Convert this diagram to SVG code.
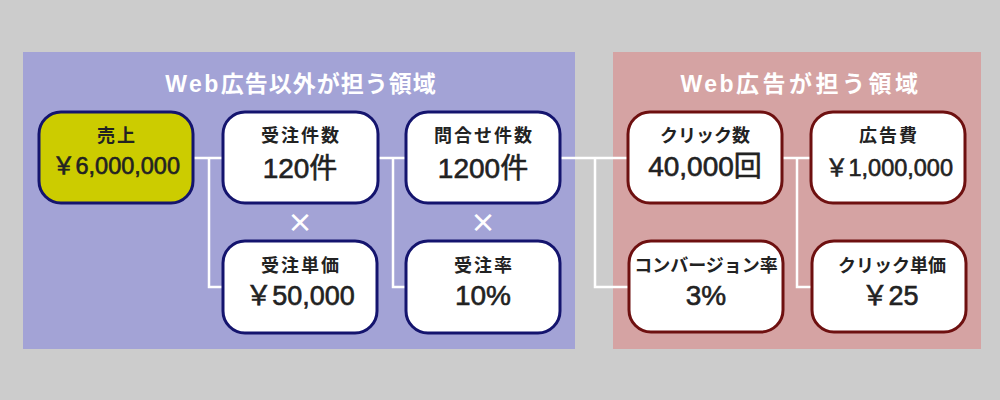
<svg xmlns="http://www.w3.org/2000/svg" width="1000" height="400" viewBox="0 0 1000 400">
<style>
.title{font-family:"Liberation Sans","Noto Sans CJK JP",sans-serif;font-weight:bold;font-size:23px;fill:#ffffff;text-anchor:middle}
.lbl{font-family:"Noto Sans CJK JP","Liberation Sans",sans-serif;font-weight:bold;font-size:18px;fill:#222222;text-anchor:middle}
.kj{letter-spacing:2px}
.val{font-family:"Liberation Sans","Noto Sans CJK JP",sans-serif;font-size:28px;fill:#222222;stroke:#222222;stroke-width:0.6;text-anchor:middle}
.sm{font-size:23.5px}
.md{font-size:27px}
.boxL{fill:#ffffff;stroke:#14146e;stroke-width:3}
.boxR{fill:#ffffff;stroke:#6e1010;stroke-width:3}
.boxY{fill:#cccc00;stroke:#14146e;stroke-width:3}
.conn{fill:none;stroke:#ffffff;stroke-width:2.5}
.times{font-family:"Noto Sans CJK JP","Liberation Sans",sans-serif;font-weight:bold;font-size:26px;fill:#ffffff;text-anchor:middle}
</style>
<rect x="0" y="0" width="1000" height="400" fill="#cccccc"/>
<g id="panel-left">
<rect x="23" y="52" width="552" height="297" fill="#a3a3d6"/>
<text class="title" x="301" y="92" letter-spacing="1"><tspan letter-spacing="2.5">Web</tspan>広告以外が担う領域</text>
</g>
<g id="panel-right">
<rect x="613" y="52" width="368" height="297" fill="#d5a3a3"/>
<text class="title" x="801" y="92"><tspan letter-spacing="2.5">Web</tspan><tspan letter-spacing="3.5">広告が担う領域</tspan></text>
</g>
<g id="connectors">
<path class="conn" d="M193 158 H223 M209 158 V287 H223"/>
<path class="conn" d="M378 158 H406 M393 158 V287 H406"/>
<path class="conn" d="M560 158 H628 M595 158 V287 H629"/>
<path class="conn" d="M782 158 H811 M797 158 V287 H812"/>
</g>
<g id="node-uriage">
<rect class="boxY" x="39" y="112" width="154" height="91" rx="22"/>
<text class="lbl kj" x="117" y="142">売上</text>
<text class="val sm" x="116" y="174">￥6,000,000</text>
</g>
<g id="node-juchu-kensu">
<rect class="boxL" x="223" y="112" width="155" height="91" rx="22"/>
<text class="lbl kj" x="301" y="142">受注件数</text>
<text class="val" x="300" y="178">120件</text>
</g>
<g id="node-toiawase">
<rect class="boxL" x="406" y="112" width="154" height="91" rx="22"/>
<text class="lbl kj" x="484" y="142">問合せ件数</text>
<text class="val" x="483" y="178">1200件</text>
</g>
<g id="node-juchu-tanka">
<rect class="boxL" x="223" y="241" width="154" height="92" rx="22"/>
<text class="lbl kj" x="301" y="272">受注単価</text>
<text class="val md" x="300" y="305">￥50,000</text>
</g>
<g id="node-juchu-ritsu">
<rect class="boxL" x="406" y="241" width="154" height="92" rx="22"/>
<text class="lbl kj" x="484" y="272">受注率</text>
<text class="val" x="483" y="305">10%</text>
</g>
<g id="node-click">
<rect class="boxR" x="628" y="112" width="154" height="91" rx="22"/>
<text class="lbl" x="705" y="142">クリック数</text>
<text class="val" x="705" y="176">40,000回</text>
</g>
<g id="node-koukokuhi">
<rect class="boxR" x="811" y="112" width="154" height="91" rx="22"/>
<text class="lbl kj" x="889" y="142">広告費</text>
<text class="val sm" x="889" y="176">￥1,000,000</text>
</g>
<g id="node-cvr">
<rect class="boxR" x="629" y="241" width="154" height="91" rx="22"/>
<text class="lbl" x="706" y="272">コンバージョン率</text>
<text class="val" x="706" y="305">3%</text>
</g>
<g id="node-cpc">
<rect class="boxR" x="812" y="241" width="154" height="91" rx="22"/>
<text class="lbl" x="892" y="272">クリック単価</text>
<text class="val md" x="890" y="305">￥25</text>
</g>
<g id="multiply">
<text class="times" x="300" y="232">×</text>
<text class="times" x="483" y="232">×</text>
</g>
</svg>
